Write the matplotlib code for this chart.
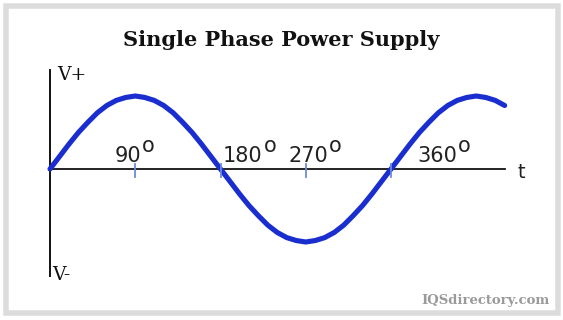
import matplotlib
matplotlib.use("Agg")
import matplotlib.pyplot as plt
from matplotlib.patches import Rectangle

# phase angle (deg) and voltage, every 10 degrees
angle = list(range(0, 490, 10))
volts = [0.00, 0.17, 0.34, 0.50, 0.64, 0.77, 0.87, 0.94, 0.98, 1.00,
         0.98, 0.94, 0.87, 0.77, 0.64, 0.50, 0.34, 0.17, 0.00,
         -0.17, -0.34, -0.50, -0.64, -0.77, -0.87, -0.94, -0.98, -1.00,
         -0.98, -0.94, -0.87, -0.77, -0.64, -0.50, -0.34, -0.17, 0.00,
         0.17, 0.34, 0.50, 0.64, 0.77, 0.87, 0.94, 0.98, 1.00,
         0.98, 0.94, 0.87]

tick_deg = [90, 180, 270, 360]
tick_txt = ["90", "180", "270", "360"]

W, H = 563, 320
# pixel layout of the drawing: origin and scale
X0, SX = 50, 341 / 360
Y0, SY = 169, 73


def dx(p):
    return (p - X0) / SX


def dy(p):
    return (Y0 - p) / SY


fig = plt.figure(figsize=(W / 100, H / 100), dpi=100)
ax = fig.add_axes([0, 0, 1, 1])
ax.axis("off")
ax.set_xlim(dx(0), dx(W))
ax.set_ylim(dy(H), dy(0))

# grey frame
fig.patches.append(Rectangle((5.5 / W, 7 / H), 552 / W, 307 / H,
                             transform=fig.transFigure, fill=False,
                             ec="#dcdcdc", lw=5.5 * 0.72))

fig.text(0.5, 1 - 46 / H, "Single Phase Power Supply", ha="center",
         va="baseline", fontsize=15, fontweight="bold", family="DejaVu Serif",
         color="#111111")

# axes
ax.plot([0, 0], [dy(70), dy(276)], color="#111111", lw=1.4, zorder=1)
ax.plot([0, dx(505)], [0, 0], color="#111111", lw=1.3, zorder=1)

ax.plot(angle, volts, color="#1a2ed0", lw=3.7, solid_capstyle="round", zorder=2)

for d in tick_deg:
    ax.plot([d, d], [dy(164), dy(177)], color="#6b8ad8", lw=1.3, zorder=3)

lab_left = [115, 223, 288, 417]
for left, txt in zip(lab_left, tick_txt):
    ax.text(dx(left), dy(162), txt, ha="left", va="baseline", fontsize=15,
            family="DejaVu Sans", color="#222222")
    ax.text(dx(left + 13.6 * len(txt)), dy(152), "o", ha="left",
            va="baseline", fontsize=15, family="DejaVu Sans", color="#222222")

ax.text(dx(521), dy(172), "t", ha="center", va="center", fontsize=14,
        family="DejaVu Sans", color="#222222")
ax.text(dx(57), dy(80), "V+", ha="left", va="baseline", fontsize=13.5,
        family="DejaVu Serif", color="#111111")
ax.text(dx(52), dy(280), "V-", ha="left", va="baseline", fontsize=13.5,
        family="DejaVu Serif", color="#111111")

fig.text(550 / W, 1 - 304 / H, "IQSdirectory.com", ha="right", va="baseline",
         fontsize=9.5, fontweight="bold", family="DejaVu Serif", color="#9a9a9a")

fig.savefig("out.png", dpi=100, facecolor="white")
